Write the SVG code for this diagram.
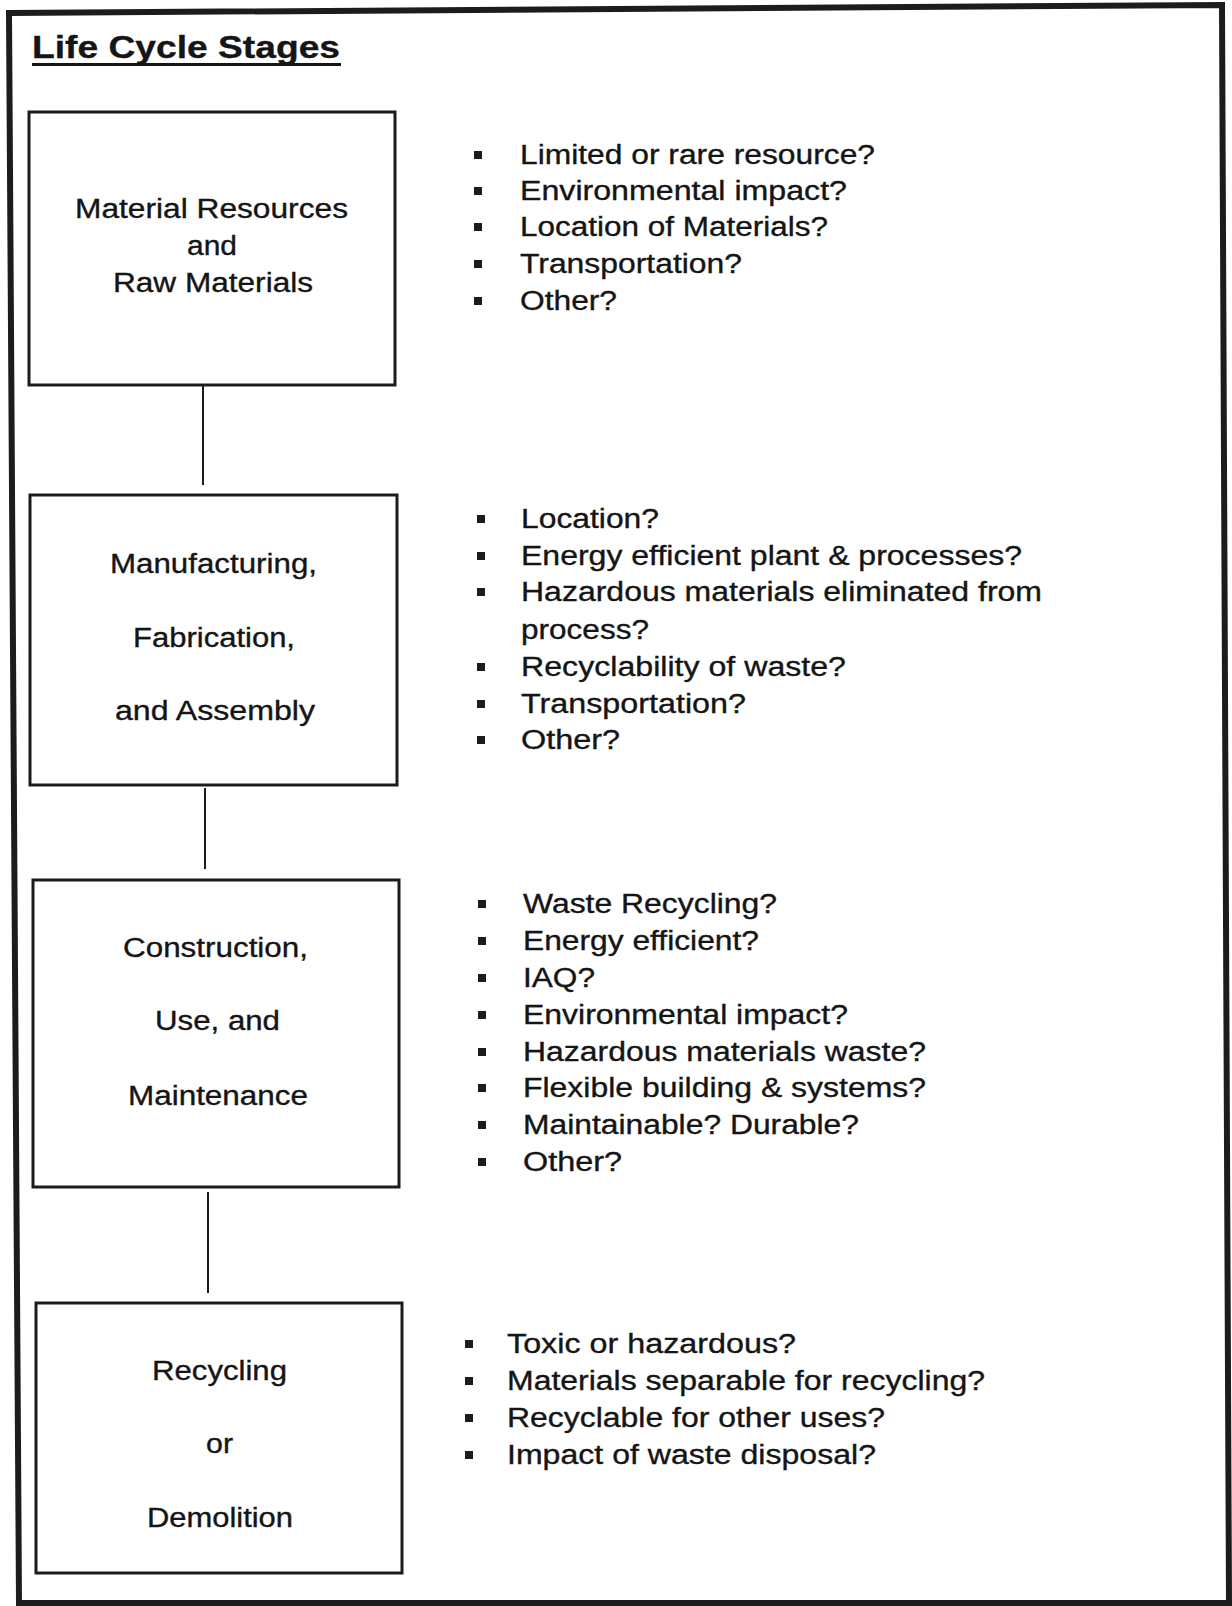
<svg xmlns="http://www.w3.org/2000/svg" width="1232" height="1606" viewBox="0 0 1232 1606">
<style>
.frame{fill:none;stroke:#1c1c1c;stroke-width:6;stroke-linejoin:miter}
.box{fill:#fff;stroke:#1c1c1c;stroke-width:3}
.conn{stroke:#1c1c1c;stroke-width:2;fill:none}
text{font-family:"Liberation Sans",Arial,sans-serif;fill:#151515;stroke:#151515;stroke-width:0.35}
.t{font-size:27px}
.title{font-size:32px;font-weight:bold}
.bul{fill:#1c1c1c}
</style>
<rect x="0" y="0" width="1232" height="1606" fill="#fff"/>
<polygon class="frame" points="9,13 1222,5 1229,1603 19,1603"/>
<g id="title">
<text class="title" x="32" y="58" textLength="308" lengthAdjust="spacingAndGlyphs">Life Cycle Stages</text>
<rect x="32" y="63" width="309" height="3" fill="#151515"/>
</g>
<g id="connectors">
<line class="conn" x1="203" y1="386" x2="203" y2="485"/>
<line class="conn" x1="205" y1="788" x2="205" y2="869"/>
<line class="conn" x1="208" y1="1192" x2="208" y2="1293"/>
</g>
<g id="node-material">
<rect class="box" x="29" y="112" width="366" height="273"/>
<text class="t" x="75" y="218" textLength="273" lengthAdjust="spacingAndGlyphs">Material Resources</text>
<text class="t" x="187" y="255" textLength="50" lengthAdjust="spacingAndGlyphs">and</text>
<text class="t" x="113" y="292" textLength="200" lengthAdjust="spacingAndGlyphs">Raw Materials</text>
</g>
<g id="node-manufacturing">
<rect class="box" x="30" y="495" width="367" height="290"/>
<text class="t" x="110" y="573" textLength="207" lengthAdjust="spacingAndGlyphs">Manufacturing,</text>
<text class="t" x="133" y="647" textLength="162" lengthAdjust="spacingAndGlyphs">Fabrication,</text>
<text class="t" x="115" y="720" textLength="200" lengthAdjust="spacingAndGlyphs">and Assembly</text>
</g>
<g id="node-construction">
<rect class="box" x="33" y="880" width="366" height="307"/>
<text class="t" x="123" y="957" textLength="185" lengthAdjust="spacingAndGlyphs">Construction,</text>
<text class="t" x="155" y="1030" textLength="125" lengthAdjust="spacingAndGlyphs">Use, and</text>
<text class="t" x="128" y="1105" textLength="180" lengthAdjust="spacingAndGlyphs">Maintenance</text>
</g>
<g id="node-recycling">
<rect class="box" x="36" y="1303" width="366" height="270"/>
<text class="t" x="152" y="1380" textLength="135" lengthAdjust="spacingAndGlyphs">Recycling</text>
<text class="t" x="206" y="1453" textLength="27" lengthAdjust="spacingAndGlyphs">or</text>
<text class="t" x="147" y="1527" textLength="146" lengthAdjust="spacingAndGlyphs">Demolition</text>
</g>
<g id="list-material">
<rect class="bul" x="474" y="151" width="8" height="8"/>
<rect class="bul" x="474" y="187" width="8" height="8"/>
<rect class="bul" x="474" y="223" width="8" height="8"/>
<rect class="bul" x="474" y="260" width="8" height="8"/>
<rect class="bul" x="474" y="297" width="8" height="8"/>
<text class="t" x="520" y="164" textLength="355" lengthAdjust="spacingAndGlyphs">Limited or rare resource?</text>
<text class="t" x="520" y="200" textLength="327" lengthAdjust="spacingAndGlyphs">Environmental impact?</text>
<text class="t" x="520" y="236" textLength="308" lengthAdjust="spacingAndGlyphs">Location of Materials?</text>
<text class="t" x="520" y="273" textLength="222" lengthAdjust="spacingAndGlyphs">Transportation?</text>
<text class="t" x="520" y="310" textLength="97" lengthAdjust="spacingAndGlyphs">Other?</text>
</g>
<g id="list-manufacturing">
<rect class="bul" x="477" y="515" width="8" height="8"/>
<rect class="bul" x="477" y="552" width="8" height="8"/>
<rect class="bul" x="477" y="588" width="8" height="8"/>
<rect class="bul" x="477" y="663" width="8" height="8"/>
<rect class="bul" x="477" y="700" width="8" height="8"/>
<rect class="bul" x="477" y="736" width="8" height="8"/>
<text class="t" x="521" y="528" textLength="138" lengthAdjust="spacingAndGlyphs">Location?</text>
<text class="t" x="521" y="565" textLength="501" lengthAdjust="spacingAndGlyphs">Energy efficient plant &amp; processes?</text>
<text class="t" x="521" y="601" textLength="521" lengthAdjust="spacingAndGlyphs">Hazardous materials eliminated from</text>
<text class="t" x="521" y="639" textLength="128" lengthAdjust="spacingAndGlyphs">process?</text>
<text class="t" x="521" y="676" textLength="325" lengthAdjust="spacingAndGlyphs">Recyclability of waste?</text>
<text class="t" x="521" y="713" textLength="225" lengthAdjust="spacingAndGlyphs">Transportation?</text>
<text class="t" x="521" y="749" textLength="99" lengthAdjust="spacingAndGlyphs">Other?</text>
</g>
<g id="list-construction">
<rect class="bul" x="478" y="900" width="8" height="8"/>
<rect class="bul" x="478" y="937" width="8" height="8"/>
<rect class="bul" x="478" y="974" width="8" height="8"/>
<rect class="bul" x="478" y="1011" width="8" height="8"/>
<rect class="bul" x="478" y="1048" width="8" height="8"/>
<rect class="bul" x="478" y="1084" width="8" height="8"/>
<rect class="bul" x="478" y="1121" width="8" height="8"/>
<rect class="bul" x="478" y="1158" width="8" height="8"/>
<text class="t" x="523" y="913" textLength="254" lengthAdjust="spacingAndGlyphs">Waste Recycling?</text>
<text class="t" x="523" y="950" textLength="236" lengthAdjust="spacingAndGlyphs">Energy efficient?</text>
<text class="t" x="523" y="987" textLength="72" lengthAdjust="spacingAndGlyphs">IAQ?</text>
<text class="t" x="523" y="1024" textLength="325" lengthAdjust="spacingAndGlyphs">Environmental impact?</text>
<text class="t" x="523" y="1061" textLength="403" lengthAdjust="spacingAndGlyphs">Hazardous materials waste?</text>
<text class="t" x="523" y="1097" textLength="403" lengthAdjust="spacingAndGlyphs">Flexible building &amp; systems?</text>
<text class="t" x="523" y="1134" textLength="336" lengthAdjust="spacingAndGlyphs">Maintainable? Durable?</text>
<text class="t" x="523" y="1171" textLength="99" lengthAdjust="spacingAndGlyphs">Other?</text>
</g>
<g id="list-recycling">
<rect class="bul" x="465" y="1340" width="8" height="8"/>
<rect class="bul" x="465" y="1377" width="8" height="8"/>
<rect class="bul" x="465" y="1414" width="8" height="8"/>
<rect class="bul" x="465" y="1451" width="8" height="8"/>
<text class="t" x="507" y="1353" textLength="289" lengthAdjust="spacingAndGlyphs">Toxic or hazardous?</text>
<text class="t" x="507" y="1390" textLength="478" lengthAdjust="spacingAndGlyphs">Materials separable for recycling?</text>
<text class="t" x="507" y="1427" textLength="378" lengthAdjust="spacingAndGlyphs">Recyclable for other uses?</text>
<text class="t" x="507" y="1464" textLength="369" lengthAdjust="spacingAndGlyphs">Impact of waste disposal?</text>
</g>
</svg>
